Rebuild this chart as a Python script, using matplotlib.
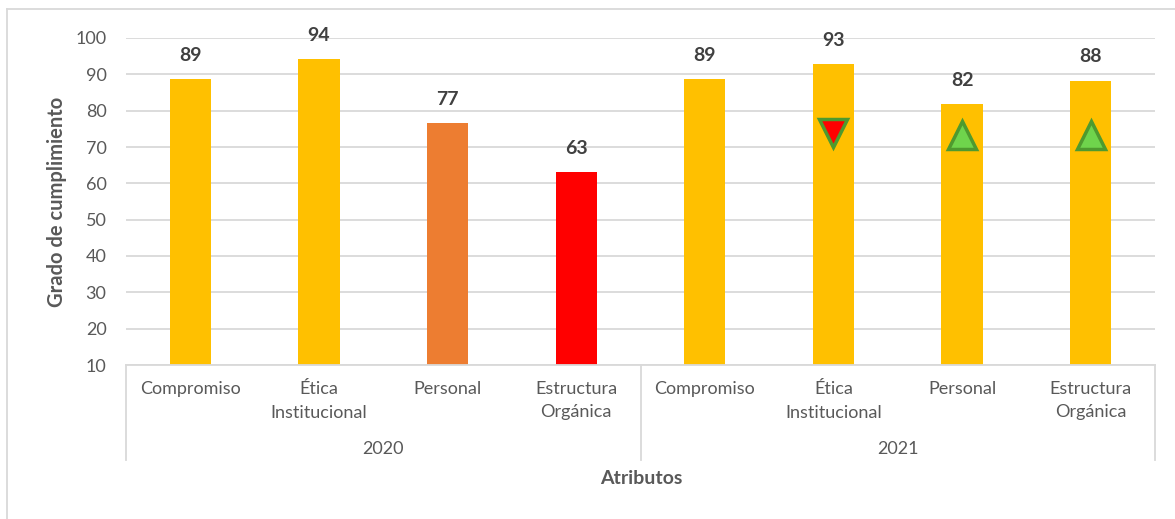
import numpy as np
import matplotlib.pyplot as plt
from matplotlib.lines import Line2D

# Datos
anios = ["2020", "2021"]
atributos = ["Compromiso", "Ética\nInstitucional", "Personal", "Estructura\nOrgánica"]
valores_2020 = [88.8, 94.1, 76.7, 63.2]
valores_2021 = [88.6, 92.9, 81.7, 88.3]
etiquetas_2020 = ["89", "94", "77", "63"]
etiquetas_2021 = ["89", "93", "82", "88"]
colores_2020 = ["#FFC000", "#FFC000", "#ED7D31", "#FF0000"]
colores_2021 = ["#FFC000", "#FFC000", "#FFC000", "#FFC000"]
# tendencia 2021 vs 2020 (indice del atributo, nivel, sentido)
tend_idx = [1, 2, 3]
tend_nivel = [73.9, 73.2, 73.2]
tend_sentido = ["baja", "sube", "sube"]

plt.rcParams['font.family'] = ['Lato', 'DejaVu Sans']
gris_txt = "#595959"
gris_lin = "#D9D9D9"

fig = plt.figure(figsize=(11.75, 5.19), dpi=100)
ax = fig.add_axes([126/1175, 1-365/519, 1029/1175, 327/519])

valores = valores_2020 + valores_2021
etiquetas = etiquetas_2020 + etiquetas_2021
colores = colores_2020 + colores_2021
x = np.arange(len(valores))

ax.bar(x, [v - 10 for v in valores], bottom=10, width=0.32, color=colores, zorder=2)
for xi, v, e in zip(x, valores, etiquetas):
    ax.annotate(e, (xi, v), xytext=(0, 17), textcoords="offset points",
                ha="center", va="center", fontsize=14, fontweight="bold", color="#404040")

for i, nivel, s in zip(tend_idx, tend_nivel, tend_sentido):
    xi = len(valores_2020) + i
    if s == "sube":
        ax.plot(xi, nivel, marker="^", ms=20, mfc="#6FD44C", mec="#4E9A2F", mew=2.5, zorder=3)
    else:
        ax.plot(xi, nivel, marker="v", ms=20, mfc="#FF0000", mec="#4E9A2F", mew=2.5, zorder=3)

ax.set_ylim(10, 100)
ax.set_xlim(-0.5, len(valores) - 0.5)
ax.set_yticks(range(10, 101, 10))
ax.yaxis.grid(True, color=gris_lin, lw=1.3, zorder=0)
ax.tick_params(axis="y", length=0, labelsize=13, labelcolor=gris_txt, pad=14)
ax.set_xticks([])
for sp in ["top", "right", "left"]:
    ax.spines[sp].set_visible(False)
ax.spines["bottom"].set_color(gris_lin)
ax.spines["bottom"].set_linewidth(1.3)

ax.set_ylabel("Grado de cumplimiento", fontsize=14.5, fontweight="bold", color=gris_txt, labelpad=6)

# eje de categorias en dos niveles
trans = ax.get_xaxis_transform()
for xi, lab in zip(x, atributos + atributos):
    ax.text(xi, -0.05, lab, transform=trans, ha="center", va="top",
            fontsize=13, color=gris_txt, linespacing=1.55)
for k, a in enumerate(anios):
    n = len(atributos)
    ax.text(k * n + (n - 1) / 2, -0.257, a, transform=trans, ha="center", va="center",
            fontsize=13, color=gris_txt)
for xs in [-0.5, 3.5, 7.5]:
    ax.add_line(Line2D([xs, xs], [0, -0.29], transform=trans, color=gris_lin,
                       lw=1.3, clip_on=False))
fig.text(641/1175, 1-479/519, "Atributos", ha="center", va="center",
         fontsize=14, fontweight="bold", color=gris_txt)

# marco del grafico
fig.add_artist(Line2D([7/1175, 7/1175], [0, 1-9/519], color=gris_lin, lw=1.3))
fig.add_artist(Line2D([7/1175, 1], [1-9/519, 1-9/519], color=gris_lin, lw=1.3))

fig.savefig("out.png", dpi=100)
